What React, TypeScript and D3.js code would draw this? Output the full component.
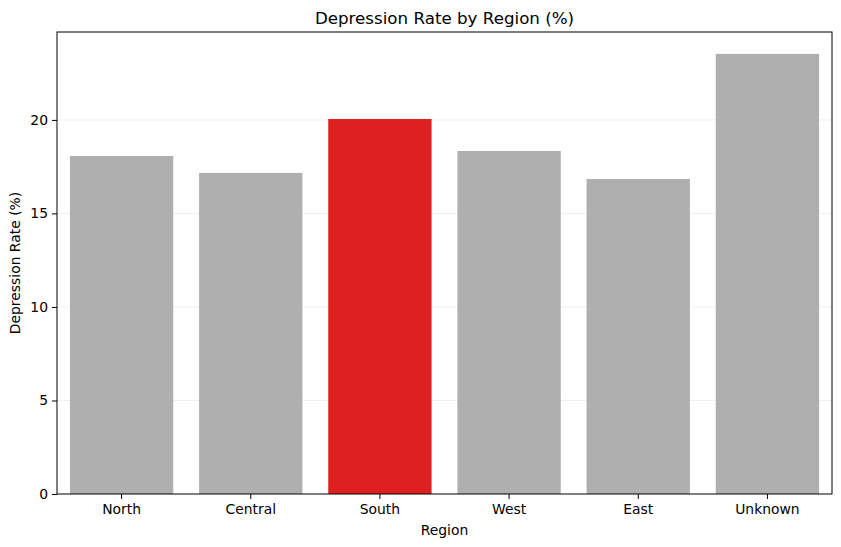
import { useRef, useEffect } from "react";
import * as d3 from "d3";

const regions = ["North", "Central", "South", "West", "East", "Unknown"];
const rates = [18.07, 17.17, 20.05, 18.34, 16.84, 23.53];
const highlight = "South";
const yTicks = [0, 5, 10, 15, 20];

const App = () => {
  const svgRef = useRef(null);

  useEffect(() => {
    d3.select(svgRef.current).selectAll("*").remove();

    const width = 841;
    const height = 547;
    const margin = { top: 32, right: 9, bottom: 53, left: 57 };
    const font = "DejaVu Sans, sans-serif";
    const labelSize = "13.9px";

    const svg = d3
      .select(svgRef.current)
      .attr("width", width)
      .attr("height", height);

    const x = d3
      .scaleBand()
      .domain(regions)
      .range([margin.left, width - margin.right])
      .paddingInner(0.2)
      .paddingOuter(0.1);

    const y = d3
      .scaleLinear()
      .domain([0, 24.7])
      .range([height - margin.bottom, margin.top]);

    // horizontal grid behind the bars
    svg
      .append("g")
      .selectAll("line")
      .data(yTicks.filter((t) => t > 0))
      .enter()
      .append("line")
      .attr("x1", margin.left)
      .attr("x2", width - margin.right)
      .attr("y1", (d) => y(d))
      .attr("y2", (d) => y(d))
      .attr("stroke", "#ebebeb")
      .attr("stroke-width", 0.8);

    svg
      .append("g")
      .selectAll("rect")
      .data(regions)
      .enter()
      .append("rect")
      .attr("x", (d) => x(d))
      .attr("width", x.bandwidth())
      .attr("y", (d, i) => y(rates[i]))
      .attr("height", (d, i) => y(0) - y(rates[i]))
      .attr("fill", (d) => (d === highlight ? "#df2020" : "#afafaf"));

    const xAxis = svg
      .append("g")
      .attr("transform", `translate(0,${y(0)})`)
      .call(d3.axisBottom(x).tickSizeOuter(0).tickSize(5).tickPadding(5));
    xAxis.select(".domain").remove();
    xAxis.selectAll("text").style("font-family", font).style("font-size", labelSize).attr("fill", "#000");

    const yAxis = svg
      .append("g")
      .attr("transform", `translate(${margin.left},0)`)
      .call(d3.axisLeft(y).tickValues(yTicks).tickSize(5).tickPadding(4));
    yAxis.select(".domain").remove();
    yAxis.selectAll("text").style("font-family", font).style("font-size", labelSize).attr("fill", "#000");

    // axes frame
    svg
      .append("rect")
      .attr("x", margin.left)
      .attr("y", margin.top)
      .attr("width", width - margin.left - margin.right)
      .attr("height", height - margin.top - margin.bottom)
      .attr("fill", "none")
      .attr("stroke", "#000")
      .attr("stroke-width", 1);

    svg
      .append("text")
      .attr("x", (margin.left + width - margin.right) / 2)
      .attr("y", 24)
      .attr("text-anchor", "middle")
      .style("font-family", font)
      .style("font-size", "16.7px")
      .text("Depression Rate by Region (%)");

    svg
      .append("text")
      .attr("x", (margin.left + width - margin.right) / 2)
      .attr("y", 535)
      .attr("text-anchor", "middle")
      .style("font-family", font)
      .style("font-size", labelSize)
      .text("Region");

    svg
      .append("text")
      .attr("transform", `translate(20,${(margin.top + height - margin.bottom) / 2}) rotate(-90)`)
      .attr("text-anchor", "middle")
      .style("font-family", font)
      .style("font-size", labelSize)
      .text("Depression Rate (%)");
  }, []);

  return (
    <svg
      ref={svgRef}
      style={{ position: "absolute", left: 0, top: 0, background: "#fff" }}
    ></svg>
  );
};

export default App;
